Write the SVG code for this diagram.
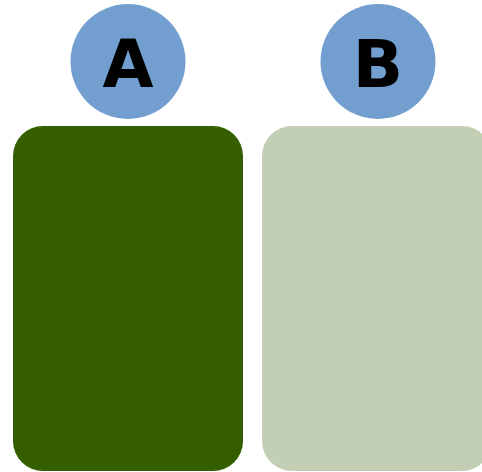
<svg xmlns="http://www.w3.org/2000/svg" width="482" height="472" viewBox="0 0 482 472">
<style>
.c{fill:#729fcf}
.t{font-family:"DejaVu Sans",sans-serif;font-weight:bold;font-size:66px;fill:#000;text-anchor:middle}
</style>
<rect width="482" height="472" fill="#fff"/>
<g id="rectA"><rect x="13" y="126" width="230" height="345" rx="30" fill="#355e00"/></g>
<g id="rectB"><rect x="262" y="126" width="230" height="345" rx="30" fill="#c3cfb4"/></g>
<g id="nodeA"><circle class="c" cx="128" cy="61.5" r="57.5"/><text class="t" x="128" y="87">A</text></g>
<g id="nodeB"><circle class="c" cx="378" cy="61.5" r="57.5"/><text class="t" x="378" y="87">B</text></g>
<g id="connectors"></g>
</svg>
